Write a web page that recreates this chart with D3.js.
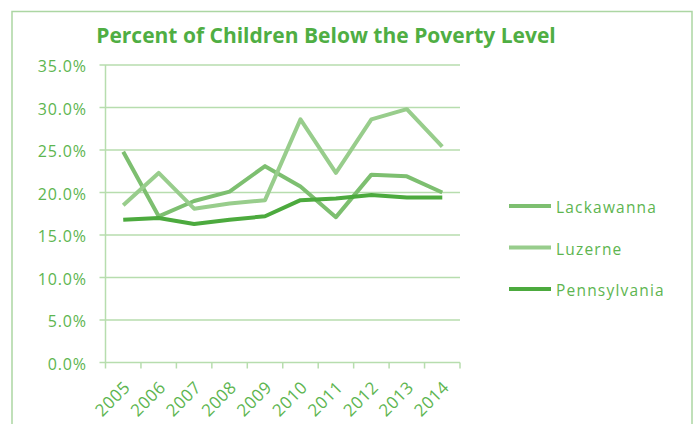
<!DOCTYPE html>
<html>
<head>
<meta charset="utf-8">
<script src="https://d3js.org/d3.v7.min.js"></script>
<style>
  body { margin: 0; background: #fff; }
  text { font-family: "Open Sans", "DejaVu Sans", sans-serif; }
</style>
</head>
<body>
<script>
// data
var years = ["2005","2006","2007","2008","2009","2010","2011","2012","2013","2014"];
var lackawanna = [24.8, 17.2, 19.0, 20.1, 23.1, 20.7, 17.1, 22.1, 21.9, 20.0];
var luzerne = [18.5, 22.3, 18.1, 18.7, 19.1, 28.6, 22.3, 28.6, 29.8, 25.4];
var pennsylvania = [16.8, 17.0, 16.3, 16.8, 17.2, 19.1, 19.3, 19.7, 19.4, 19.4];
var yTicks = [0, 5, 10, 15, 20, 25, 30, 35];

var series = [
  {name: "Lackawanna", values: lackawanna, color: "#7dbf70"},
  {name: "Luzerne", values: luzerne, color: "#98cd8c"},
  {name: "Pennsylvania", values: pennsylvania, color: "#4caa3e"}
];

var W = 696, H = 424;
var svg = d3.select("body").append("svg")
  .attr("width", W).attr("height", H);

// chart border
svg.append("rect")
  .attr("x", 12).attr("y", 11.5)
  .attr("width", 680).attr("height", 430)
  .attr("fill", "none").attr("stroke", "#acd6a3").attr("stroke-width", 1.5);

svg.append("text")
  .attr("x", 326).attr("y", 43)
  .attr("text-anchor", "middle")
  .attr("font-size", 21).attr("font-weight", "bold")
  .attr("fill", "#4fae43")
  .text("Percent of Children Below the Poverty Level");

var plotL = 105.5, plotR = 460, plotT = 65, plotB = 362.5;

var x = d3.scaleBand().domain(years).range([plotL, plotR]);
var y = d3.scaleLinear().domain([0, 35]).range([plotB, plotT]);

// gridlines
svg.append("g").selectAll("line")
  .data(yTicks).join("line")
  .attr("x1", plotL - 6).attr("x2", plotR)
  .attr("y1", d => y(d)).attr("y2", d => y(d))
  .attr("stroke", "#b7ddae").attr("stroke-width", 1.5);

// y axis line
svg.append("line")
  .attr("x1", plotL).attr("x2", plotL)
  .attr("y1", plotT).attr("y2", plotB)
  .attr("stroke", "#b7ddae").attr("stroke-width", 1.5);

// x ticks at band boundaries
var xEdges = years.map(d => x(d)).concat([plotR]);
svg.append("g").selectAll("line")
  .data(xEdges).join("line")
  .attr("x1", d => d).attr("x2", d => d)
  .attr("y1", plotB).attr("y2", plotB + 6)
  .attr("stroke", "#b7ddae").attr("stroke-width", 1.5);

// y labels
svg.append("g").selectAll("text")
  .data(yTicks).join("text")
  .attr("x", 87).attr("y", d => y(d) + 7)
  .attr("text-anchor", "end")
  .attr("font-size", 16).attr("letter-spacing", 0.9)
  .attr("fill", "#5db550")
  .text(d => d3.format(".1f")(d) + "%");

// x labels, rotated
svg.append("g").selectAll("text")
  .data(years).join("text")
  .attr("transform", d => "translate(" + (x(d) + x.bandwidth() / 2 + 8) + "," + (plotB + 26) + ") rotate(-45)")
  .attr("text-anchor", "end")
  .attr("font-size", 17).attr("letter-spacing", 0.5)
  .attr("fill", "#5db550")
  .text(d => d);

var line = d3.line()
  .x((d, i) => x(years[i]) + x.bandwidth() / 2)
  .y(d => y(d));

svg.append("g").selectAll("path")
  .data(series).join("path")
  .attr("d", d => line(d.values))
  .attr("fill", "none")
  .attr("stroke", d => d.color)
  .attr("stroke-width", 4)
  .attr("stroke-linejoin", "round");

// legend
var lg = svg.append("g").selectAll("g")
  .data(series).join("g")
  .attr("transform", (d, i) => "translate(509," + (206 + i * 41.5) + ")");
lg.append("line")
  .attr("x1", 0).attr("x2", 42)
  .attr("stroke", d => d.color).attr("stroke-width", 4);
lg.append("text")
  .attr("x", 47).attr("y", 7)
  .attr("font-size", 15.5).attr("letter-spacing", 1.2)
  .attr("fill", "#5db550")
  .text(d => d.name);
</script>
</body>
</html>
